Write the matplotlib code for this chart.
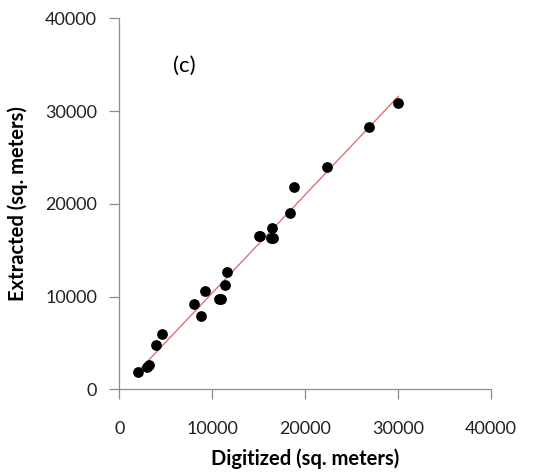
import matplotlib.pyplot as plt
import numpy as np

# Digitized vs extracted areas (sq. meters)
digitized = [2000, 2950, 3250, 3900, 4650, 8050, 8850, 9250, 10750, 10950,
             11400, 11650, 15000, 15200, 16300, 16500, 16450, 18400, 18850,
             22350, 26900, 30050]
extracted = [1830, 2450, 2600, 4750, 6000, 9150, 7900, 10550, 9750, 9750,
             11250, 12650, 16500, 16500, 16300, 16300, 17400, 19050, 21800,
             24000, 28300, 30850]
ticks = [0, 10000, 20000, 30000, 40000]

plt.rcParams['font.family'] = ['Lato', 'DejaVu Sans']

fig = plt.figure(figsize=(5.51, 4.74), dpi=100)
ax = fig.add_axes([0.2165, 0.1787, 0.6741, 0.7827])

ax.scatter(digitized, extracted, s=45, color='black', zorder=3)

# linear trendline
k, b = np.polyfit(digitized, extracted, 1)
xs = np.array([min(digitized) + 200, max(digitized)])
ax.plot(xs, k * xs + b, color='#e07070', lw=1.0, zorder=2)

ax.set_xlim(0, 40000)
ax.set_ylim(0, 40000)
ax.set_xticks(ticks)
ax.set_yticks(ticks)

for s in ['top', 'right']:
    ax.spines[s].set_visible(False)
for s in ['left', 'bottom']:
    ax.spines[s].set_color('#8c8c8c')
    ax.spines[s].set_linewidth(0.9)

ax.tick_params(axis='both', direction='out', length=7, width=0.9,
               color='#8c8c8c', labelsize=13, labelcolor='#222222')
ax.tick_params(axis='x', pad=16)
ax.tick_params(axis='y', pad=9)

ax.set_xlabel('Digitized (sq. meters)', fontsize=14.5, fontweight='bold', labelpad=8)
ax.set_ylabel('Extracted (sq. meters)', fontsize=14.5, fontweight='bold', labelpad=12)

ax.text(7000, 34900, '(c)', fontsize=16, ha='center', va='center')

plt.savefig('out.png', dpi=100)
